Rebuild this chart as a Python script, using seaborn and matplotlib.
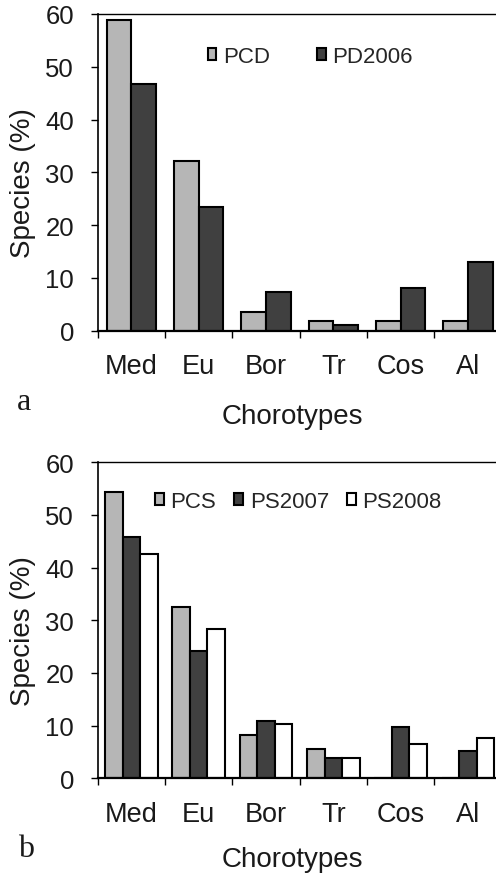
import matplotlib
matplotlib.use("Agg")
import matplotlib.pyplot as plt
import matplotlib.ticker as ticker
import seaborn as sns
import pandas as pd

# =============================================================================
# data
# =============================================================================
chorotypes = ["Med", "Eu", "Bor", "Tr", "Cos", "Al"]

# panel a
pcd = [58.9, 32.1, 3.6, 1.9, 1.9, 1.9]
pd2006 = [46.7, 23.4, 7.3, 1.1, 8.1, 13.1]

# panel b
pcs = [54.3, 32.5, 8.2, 5.6, 0.0, 0.0]
ps2007 = [45.9, 24.2, 10.9, 3.8, 9.7, 5.1]
ps2008 = [42.5, 28.3, 10.3, 3.8, 6.5, 7.7]

LIGHT = "#b6b6b6"
DARK = "#404040"
WHITE = "#ffffff"

df_a = pd.DataFrame({"Chorotype": chorotypes, "PCD": pcd, "PD2006": pd2006})
df_a = df_a.melt(id_vars="Chorotype", var_name="Series", value_name="Species (%)")
df_b = pd.DataFrame({"Chorotype": chorotypes, "PCS": pcs, "PS2007": ps2007, "PS2008": ps2008})
df_b = df_b.melt(id_vars="Chorotype", var_name="Series", value_name="Species (%)")

sns.set_theme(style="white")
plt.rcParams["font.family"] = ["Liberation Sans", "DejaVu Sans"]

W, H = 496, 879
fig = plt.figure(figsize=(W / 100, H / 100), dpi=100)

YTICK_SIZE = 18.5
XTICK_SIZE = 19.5
LABEL_SIZE = 20
LEGEND_SIZE = 16


def draw_panel(ax, df, palette, group_width, leg_anchor, colspacing, xlab_y, letter, letter_xy):
    sns.barplot(data=df, x="Chorotype", y="Species (%)", hue="Series",
                palette=palette, width=group_width, edgecolor="black",
                linewidth=1.5, saturation=1, ax=ax, legend=True)
    ax.set_xlim(-0.5, 5.5)
    ax.set_ylim(0, 60)
    ax.yaxis.set_major_locator(ticker.MultipleLocator(10))
    ax.tick_params(axis="y", which="major", direction="out", length=5, width=1,
                   color="black", left=True, labelsize=YTICK_SIZE, pad=12)
    # boundary ticks without labels, centered category labels as minor ticks
    ax.set_xticks([i - 0.5 for i in range(7)])
    ax.set_xticklabels([""] * 7)
    ax.set_xticks(range(len(chorotypes)), minor=True)
    ax.set_xticklabels(chorotypes, minor=True)
    ax.tick_params(axis="x", which="major", direction="out", length=5, width=1,
                   color="black", bottom=True)
    ax.tick_params(axis="x", which="minor", length=0, labelsize=XTICK_SIZE, pad=16)
    for side in ["left", "top", "bottom"]:
        ax.spines[side].set_visible(True)
        ax.spines[side].set_color("black")
    ax.spines["left"].set_linewidth(1.2)
    ax.spines["bottom"].set_linewidth(1.6)
    ax.spines["top"].set_linewidth(1.0)
    ax.spines["right"].set_visible(False)
    ax.set_xlabel("Chorotypes", fontsize=LABEL_SIZE, color="#1a1a1a")
    ax.set_ylabel("Species (%)", fontsize=LABEL_SIZE, color="#1a1a1a")
    ax.xaxis.set_label_coords(0.481, xlab_y)
    ax.yaxis.set_label_coords(-0.152, 0.47)
    for lab in ax.get_yticklabels() + ax.get_xticklabels(minor=True):
        lab.set_color("#1a1a1a")

    handles, labels = ax.get_legend_handles_labels()
    ax.legend(handles, labels, loc="center left", bbox_to_anchor=leg_anchor,
              ncol=len(labels), frameon=False, fontsize=LEGEND_SIZE,
              handlelength=0.4, handleheight=0.5, handletextpad=0.3,
              columnspacing=colspacing, borderpad=0, borderaxespad=0)
    fig.text(letter_xy[0], letter_xy[1], letter, family=["Liberation Serif", "DejaVu Serif"],
             fontsize=23, color="#1a1a1a")


ax_a = fig.add_axes([97.7 / W, (H - 331.7) / H, 404 / W, 316.7 / H])
draw_panel(ax_a, df_a, {"PCD": LIGHT, "PD2006": DARK}, 0.73,
           (0.272, 0.866), 2.1, -0.228, "a", (17 / W, (H - 410) / H))

ax_b = fig.add_axes([97.7 / W, (H - 779.3) / H, 404 / W, 316 / H])
draw_panel(ax_b, df_b, {"PCS": LIGHT, "PS2007": DARK, "PS2008": WHITE}, 0.78,
           (0.142, 0.876), 0.8, -0.213, "b", (18 / W, (H - 857) / H))

fig.savefig("out.png", dpi=100)
